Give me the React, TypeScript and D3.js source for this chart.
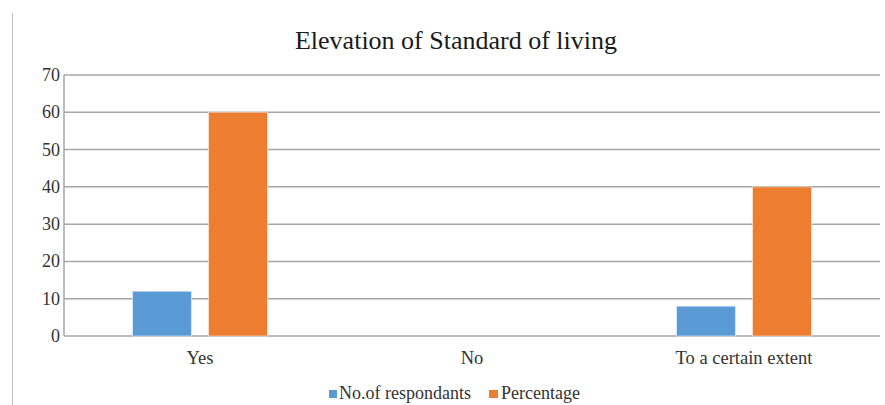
import React from "react";
import * as d3 from "d3";

const categories = ["Yes", "No", "To a certain extent"];
const seriesNames = ["No.of respondants", "Percentage"];
const respondents = [12, 0, 8];
const percentage = [60, 0, 40];
const yTicks = [0, 10, 20, 30, 40, 50, 60, 70];
const colors = ["#5B9BD5", "#ED7D31"];

const W = 885;
const H = 405;
const M = { left: 64, right: 5, top: 75, bottom: 69 };

export default function App() {
  const x = d3
    .scaleBand<string>()
    .domain(categories)
    .range([M.left, W - M.right]);
  const y = d3.scaleLinear().domain([0, 70]).range([H - M.bottom, M.top]);
  const series = [respondents, percentage];
  const barW = 59;
  const gap = 17;
  const font = "Liberation Serif, Times New Roman, Times, serif";

  return (
    <svg
      width={W}
      height={H}
      style={{ position: "absolute", left: 0, top: 0, background: "#fff", fontFamily: font }}
    >
      <line x1={12.5} x2={12.5} y1={13} y2={H} stroke="#c0c0c0" strokeWidth={1} />
      <text x={456} y={49} textAnchor="middle" fontSize={26} fill="#1a1a1a">
        Elevation of Standard of living
      </text>
      {yTicks.map((t) => (
        <g key={t}>
          <line
            x1={M.left}
            x2={W - M.right}
            y1={y(t)}
            y2={y(t)}
            stroke="#a6a6a6"
            strokeWidth={1.5}
          />
          <text
            x={M.left - 4}
            y={y(t)}
            dy="0.33em"
            textAnchor="end"
            fontSize={18}
            fill="#333"
          >
            {t}
          </text>
        </g>
      ))}
      <line
        x1={M.left}
        x2={M.left}
        y1={y(70)}
        y2={y(0)}
        stroke="#a6a6a6"
        strokeWidth={1.5}
      />
      {categories.map((c, i) => {
        const cx = (x(c) as number) + x.bandwidth() / 2;
        return (
          <g key={c}>
            {series.map((s, k) => {
              const v = s[i];
              if (v <= 0) return null;
              const bx = k === 0 ? cx - gap / 2 - barW : cx + gap / 2;
              return (
                <rect
                  key={k}
                  x={bx}
                  y={y(v)}
                  width={barW}
                  height={y(0) - y(v)}
                  fill={colors[k]}
                  stroke="#ffffff"
                  strokeOpacity={0.5}
                  strokeWidth={1}
                />
              );
            })}
            <text
              x={cx}
              y={364}
              textAnchor="middle"
              fontSize={18.5}
              fill="#333"
            >
              {c}
            </text>
          </g>
        );
      })}
      <g>
        <rect x={329} y={390} width={8} height={8} fill={colors[0]} />
        <text x={339} y={399} fontSize={18} fill="#333">
          {seriesNames[0]}
        </text>
        <rect x={489} y={390} width={9} height={8} fill={colors[1]} />
        <text x={501} y={399} fontSize={18} fill="#333">
          {seriesNames[1]}
        </text>
      </g>
    </svg>
  );
}
